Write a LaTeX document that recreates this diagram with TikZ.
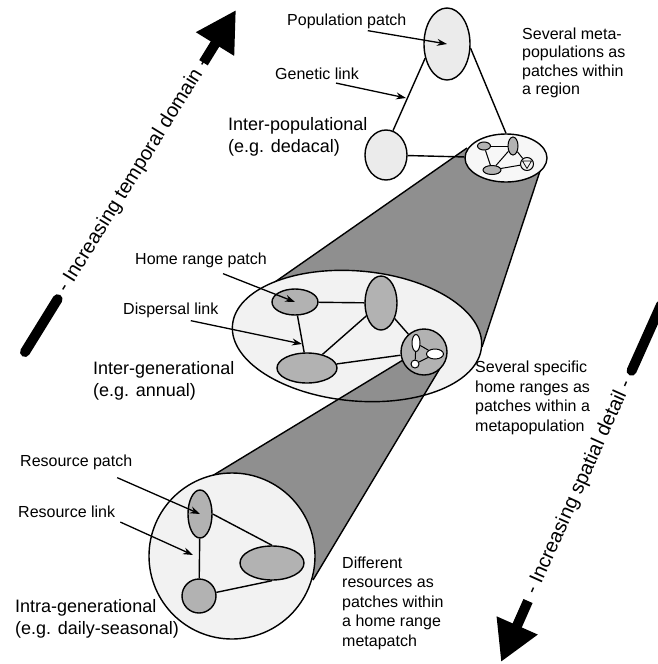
\documentclass[tikz,border=0pt]{standalone}
\usepackage{fontspec}
\setmainfont{Liberation Sans}
\usetikzlibrary{shapes.geometric,arrows.meta}

\definecolor{conegray}{gray}{0.56}
\definecolor{areagray}{gray}{0.95}
\definecolor{patchgray}{gray}{0.70}
\definecolor{popgray}{gray}{0.92}

\tikzset{
  rim/.style={draw, line width=1.4pt, inner sep=0pt},
  area/.style={rim, fill=areagray},
  patch/.style={rim, ellipse, fill=patchgray},
  tinypatch/.style={draw, line width=1pt, inner sep=0pt, fill=patchgray},
  link/.style={line width=1.4pt},
  tinylink/.style={line width=1pt},
  pointer/.style={line width=1.3pt, -{Stealth[length=10pt,width=7pt]}},
  lbl/.style={font=\fontsize{16}{19.5}\selectfont, align=left, anchor=west, inner sep=0pt},
  levellbl/.style={font=\fontsize{18}{22}\selectfont, align=left, anchor=west, inner sep=0pt},
  axislbl/.style={font=\fontsize{20}{24}\selectfont, inner sep=0pt},
  bigshaft/.style={line width=10pt, line cap=round},
  bighead/.style={line width=10pt, -{Triangle[length=40pt,width=42pt]}},
}

\begin{document}
\begin{tikzpicture}[x=1pt, y=-1pt]
	\useasboundingbox (0,0) rectangle (658,664);
	\fill[conegray] (467,148) -- (542,165) -- (482,347) -- (357,336) -- (262,291) -- cycle;
	\draw[link] (467,148) -- (262,291);
	\draw[link] (542,165) -- (482,347);
	\node[ellipse, fill=areagray, inner sep=0pt, minimum width=250pt, minimum height=130pt, rotate=-5] (meta) at (357,336) {};
	\fill[conegray] (403,360) -- (445,360) -- (313,580) -- (232,556) -- (212,476) -- cycle;
	\draw[link] (403,360) -- (212,476);
	\draw[link] (445,360) -- (313,580);
	\node[rim, ellipse, minimum width=250pt, minimum height=130pt, rotate=-5] (metaRim) at (meta) {};

	\node[rim, ellipse, fill=popgray, minimum width=46pt, minimum height=72pt] (popP) at (447,44) {};
	\node[rim, ellipse, fill=popgray, minimum width=42pt, minimum height=50pt] (leftP) at (386,155) {};
	\node[rim, ellipse, fill=white!97!black, minimum width=82pt, minimum height=48pt] (region) at (506,158) {};
	\draw[link] (popP.213) -- (leftP.74);
	\draw[link] (popP.350) -- (region.north);
	\draw[link] (leftP) -- (region);
	\node[tinypatch, ellipse, minimum width=13pt, minimum height=8pt] (rA) at (484,146) {};
	\node[tinypatch, ellipse, minimum width=10pt, minimum height=18pt] (rB) at (513,146) {};
	\node[tinypatch, ellipse, minimum width=18pt, minimum height=9pt] (rC) at (492,170) {};
	\node[tinypatch, circle, fill=areagray, minimum size=13pt] (rD) at (527,164) {};
	\draw[line width=0.7pt] (522.5,161) -- (531.5,161) -- (527,168.5) -- cycle;
	\draw[tinylink] (rA) -- (rB);
	\draw[tinylink] (rA) -- (rC);
	\draw[tinylink] (rC) -- (rB);
	\draw[tinylink] (rC) -- (rD);
	\draw[tinylink] (rB) -- (rD);

	\node[patch, minimum width=46pt, minimum height=26pt] (hA) at (295,302) {};
	\node[patch, minimum width=32pt, minimum height=54pt] (hB) at (381,303) {};
	\node[patch, minimum width=60pt, minimum height=30pt] (hC) at (307,368) {};
	\node[rim, circle, fill=patchgray, minimum size=46pt] (hS) at (424,352) {};
	\draw[link] (hA) -- (hB);
	\draw[link] (hA) -- (hC);
	\draw[link] (hC) -- (hB);
	\draw[link] (hB) -- (hS);
	\draw[link] (hC) -- (hS);
	\node[tinypatch, ellipse, fill=white, minimum width=8pt, minimum height=17pt] (sA) at (416,343) {};
	\node[tinypatch, ellipse, fill=white, minimum width=17pt, minimum height=10pt] (sB) at (435,354) {};
	\node[tinypatch, circle, fill=white, minimum size=8pt] (sC) at (415,364) {};
	\draw[tinylink] (sA) -- (sC);
	\draw[tinylink] (sC) -- (sB);
	\draw[tinylink] (sA) -- (sB);

	\node[area, circle, minimum size=166pt] (home) at (232,556) {};
	\node[patch, minimum width=24pt, minimum height=48pt] (bA) at (200,514) {};
	\node[patch, minimum width=64pt, minimum height=34pt] (bB) at (272,563) {};
	\node[rim, circle, fill=patchgray, minimum size=34pt] (bC) at (199,596) {};
	\draw[link] (bA) -- (bC);
	\draw[link] (bA.east) -- (bB.north);
	\draw[link] (bC) -- (bB.south);

	\node[lbl] (lblPop) at (287,21) {Population patch};
	\node[lbl] (lblGen) at (275,74) {Genetic link};
	\node[levellbl] (lblInterPop) at (228,137) {Inter-populational\\(e.g. dedacal)};
	\node[lbl, font=\fontsize{16}{18.5}\selectfont] (lblRegion) at (522,63) {Several meta-\\populations as\\patches within\\a region};
	\node[lbl] (lblHome) at (135,260) {Home range patch};
	\node[lbl] (lblDisp) at (123,310) {Dispersal link};
	\node[levellbl] (lblInterGen) at (93,381) {Inter-generational\\(e.g. annual)};
	\node[lbl] (lblMeta) at (475,398) {Several specific\\home ranges as\\patches within a\\metapopulation};
	\node[lbl] (lblRes) at (20,462) {Resource patch};
	\node[lbl] (lblResLink) at (18,512) {Resource link};
	\node[levellbl] (lblIntra) at (15,619) {Intra-generational\\(e.g. daily-seasonal)};
	\node[lbl] (lblPatch) at (342,603) {Different\\resources as\\patches within\\a home range\\metapatch};

	\coordinate (genTip) at (406,98);
	\coordinate (dispTip) at (302,344);
	\coordinate (resTip) at (193,555);
	\draw[pointer] ([xshift=21pt,yshift=-2pt]lblPop.south) -- (popP.center);
	\draw[pointer] ([xshift=19pt,yshift=-3pt]lblGen.south) -- (genTip);
	\draw[pointer] ([xshift=22pt,yshift=-6pt]lblHome.south) -- (hA.center);
	\draw[pointer] ([xshift=20pt,yshift=-3pt]lblDisp.south) -- (dispTip);
	\draw[pointer] ([xshift=41pt,yshift=-8pt]lblRes.south) -- (bA.center);
	\draw[pointer] ([xshift=5pt,yshift=-4pt]lblResLink.south east) -- (resTip);

	\coordinate (timeTail) at (25,352);
	\coordinate (timeBar) at (57.6,299.2);
	\coordinate (timeShaft) at (203.5,62.7);
	\coordinate (timeTip) at (236,10);
	\draw[bigshaft] (timeTail) -- (timeBar);
	\node[axislbl, rotate=58.3] (timeLbl) at (133.7,175.8) {- Increasing temporal domain -};
	\draw[bighead] (timeShaft) -- (timeTip);

	\coordinate (spaceTail) at (661,305);
	\coordinate (spaceBar) at (631.6,370.7);
	\coordinate (spaceShaft) at (528,601);
	\coordinate (spaceTip) at (501,662);
	\draw[bigshaft] (spaceTail) -- (spaceBar);
	\node[axislbl, rotate=65.8] (spaceLbl) at (579.2,487.4) {- Increasing spatial detail -};
	\draw[bighead] (spaceShaft) -- (spaceTip);
\end{tikzpicture}
\end{document}
